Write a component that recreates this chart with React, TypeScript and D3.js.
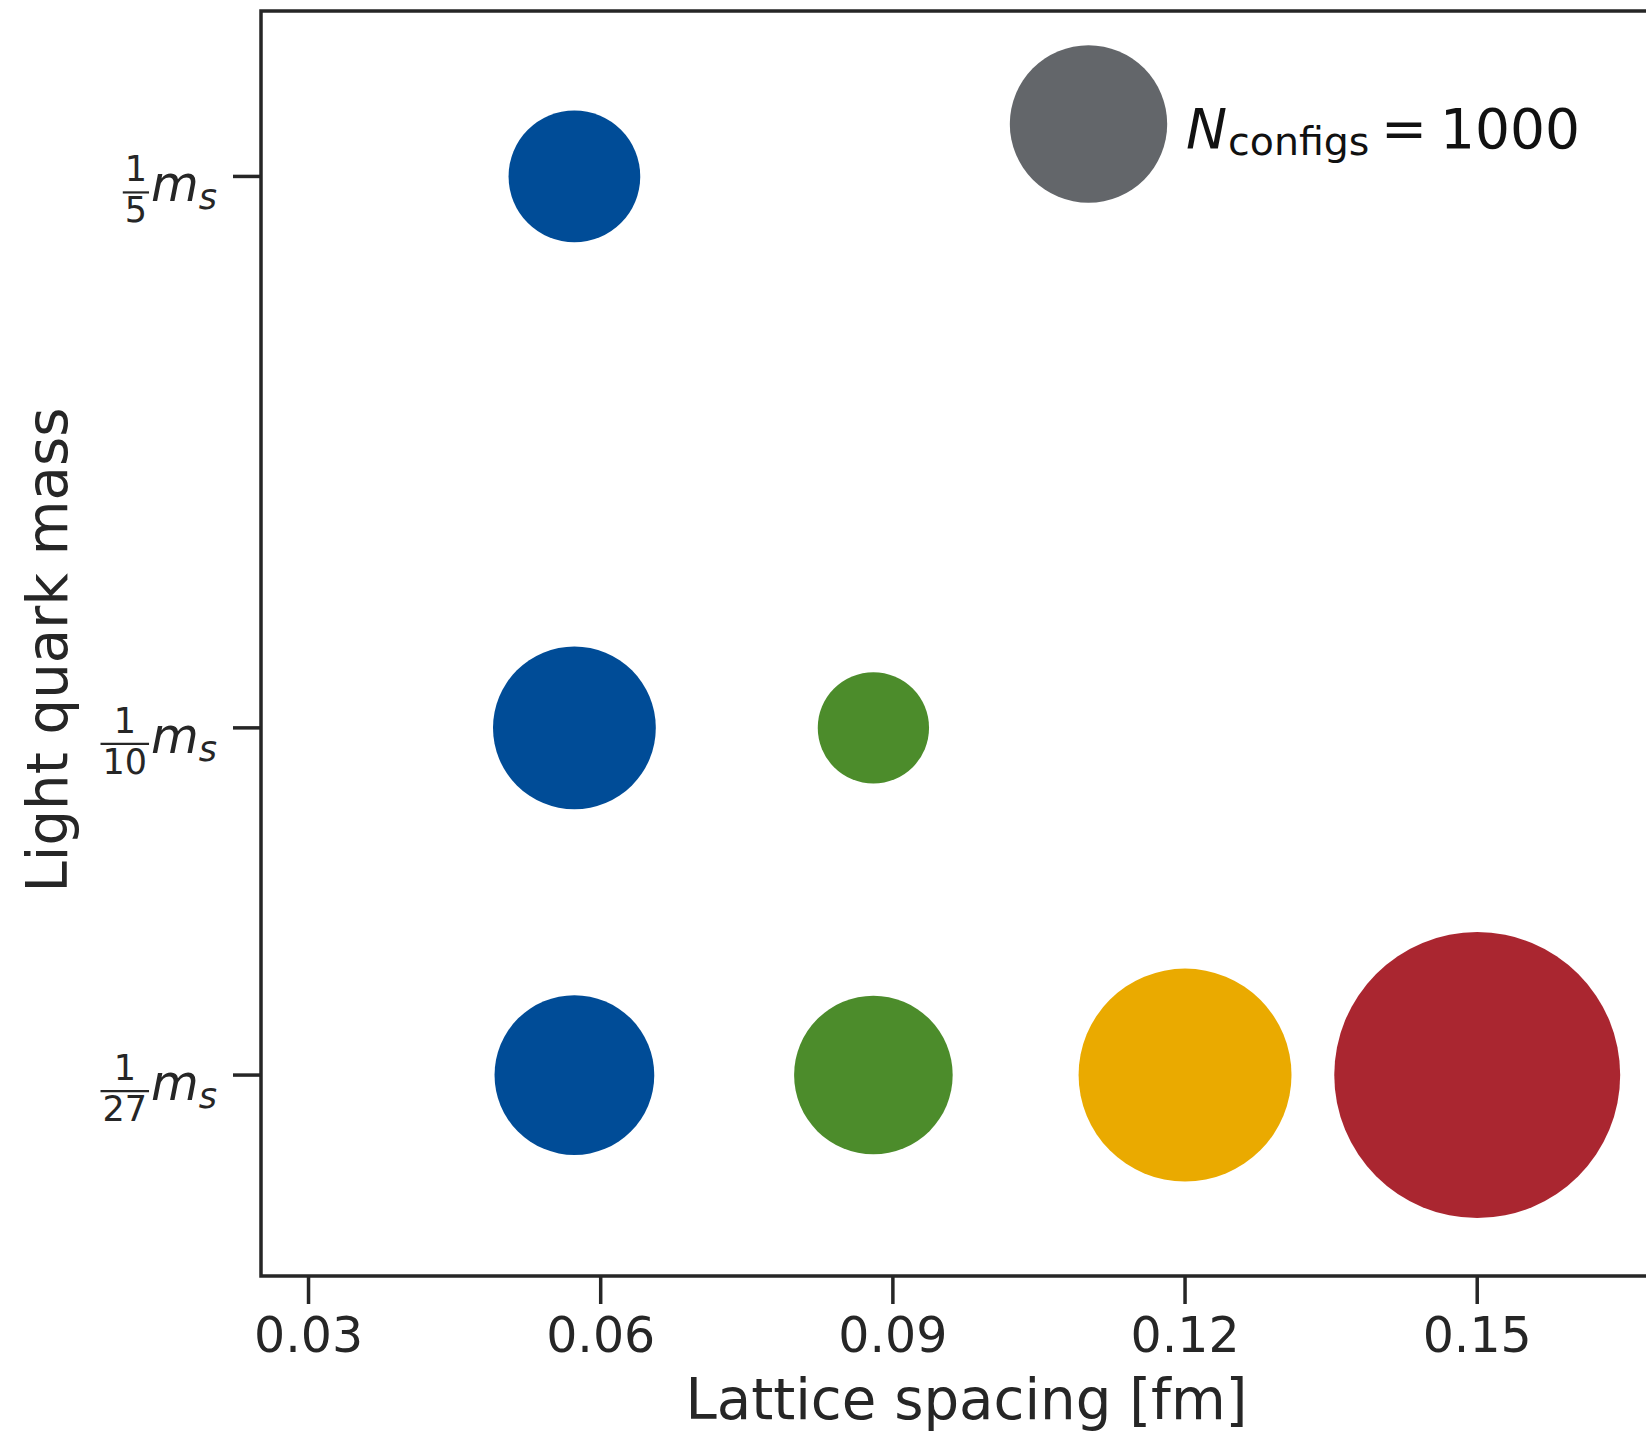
import { useEffect, useRef } from "react";
import * as d3 from "d3";

// ensembles: lattice spacing [fm], light/strange mass ratio, number of configs
const spacings = [0.0573, 0.0573, 0.088, 0.0573, 0.088, 0.12, 0.15];
const massRatios = [1 / 5, 1 / 10, 1 / 10, 1 / 27, 1 / 27, 1 / 27, 1 / 27];
const nConfigs = [700, 1070, 500, 1030, 1015, 1830, 3300];

const spacingGroups = [0.0573, 0.088, 0.12, 0.15];
const groupColors = ["#004c97", "#4c8c2b", "#eaaa00", "#aa2630"];

const xTicks = [0.03, 0.06, 0.09, 0.12, 0.15];
const yTicks = [1 / 5, 1 / 10, 1 / 27];
const yTickDenoms = ["5", "10", "27"];

const legendN = 1000;
const legendColor = "#63666a";

const FONT = "'DejaVu Sans', sans-serif";
const INK = "#262626";

export default function App() {
  const svgRef = useRef<SVGSVGElement>(null);

  useEffect(() => {
    const svg = d3.select(svgRef.current);
    svg.selectAll("*").remove();

    const left = 261;
    const top = 11;
    const bottom = 1276;
    const right = 1672; // right spine falls outside the picture

    const x = d3.scaleLinear().domain([0.02512, 0.17]).range([left, right]);
    const y = d3.scaleLinear().domain([0.0006, 0.23]).range([bottom, top]);
    const r = d3.scaleSqrt().domain([0, legendN]).range([0, 78.7]);
    const color = d3
      .scaleOrdinal<number, string>()
      .domain(spacingGroups)
      .range(groupColors);

    const g = svg.append("g");

    // points
    const pts = spacings.map((a, i) => ({
      a,
      m: massRatios[i],
      n: nConfigs[i],
    }));
    g.selectAll("circle.pt")
      .data(pts)
      .join("circle")
      .attr("class", "pt")
      .attr("cx", (d) => x(d.a))
      .attr("cy", (d) => y(d.m))
      .attr("r", (d) => r(d.n))
      .attr("fill", (d) => color(d.a));

    // spines
    g.append("path")
      .attr("d", `M${right},${top}H${left}V${bottom}H${right}`)
      .attr("fill", "none")
      .attr("stroke", INK)
      .attr("stroke-width", 3.5);

    // x axis
    const xAxis = g.append("g");
    xTicks.forEach((t) => {
      xAxis
        .append("line")
        .attr("x1", x(t))
        .attr("x2", x(t))
        .attr("y1", bottom)
        .attr("y2", bottom + 28)
        .attr("stroke", INK)
        .attr("stroke-width", 3.5);
      xAxis
        .append("text")
        .attr("x", x(t))
        .attr("y", bottom + 76)
        .attr("text-anchor", "middle")
        .attr("font-family", FONT)
        .attr("font-size", 49)
        .attr("fill", INK)
        .text(d3.format(".2f")(t));
    });
    xAxis
      .append("text")
      .attr("x", (left + right) / 2)
      .attr("y", bottom + 143)
      .attr("text-anchor", "middle")
      .attr("font-family", FONT)
      .attr("font-size", 56.2)
      .attr("fill", INK)
      .text("Lattice spacing [fm]");

    // y axis
    const yAxis = g.append("g");
    const rx = 217;
    const fs = 49;
    const small = 35;
    yTicks.forEach((t, i) => {
      const ty = y(t);
      yAxis
        .append("line")
        .attr("x1", left - 28)
        .attr("x2", left)
        .attr("y1", ty)
        .attr("y2", ty)
        .attr("stroke", INK)
        .attr("stroke-width", 3.5);

      const lab = yAxis.append("g").attr("fill", INK).attr("font-family", FONT);
      const ms = lab
        .append("text")
        .attr("x", rx)
        .attr("y", ty + 25)
        .attr("text-anchor", "end")
        .attr("font-size", fs)
        .attr("font-style", "italic");
      ms.append("tspan").text("m");
      ms.append("tspan").attr("font-size", small).attr("dy", 8).text("s");

      const mStart = rx - (0.974 * fs + 0.521 * small);
      const den = yTickDenoms[i];
      const barW = den.length * 0.636 * small + 4;
      const barRight = mStart - 2;
      const cx = barRight - barW / 2;
      lab
        .append("text")
        .attr("x", cx)
        .attr("y", ty + 5)
        .attr("text-anchor", "middle")
        .attr("font-size", small)
        .text("1");
      lab
        .append("line")
        .attr("x1", barRight - barW)
        .attr("x2", barRight)
        .attr("y1", ty + 16)
        .attr("y2", ty + 16)
        .attr("stroke", INK)
        .attr("stroke-width", 2.2);
      lab
        .append("text")
        .attr("x", cx)
        .attr("y", ty + 46)
        .attr("text-anchor", "middle")
        .attr("font-size", small)
        .text(den);
    });
    yAxis
      .append("text")
      .attr("transform", `translate(${67},${650}) rotate(-90)`)
      .attr("text-anchor", "middle")
      .attr("font-family", FONT)
      .attr("font-size", 56.2)
      .attr("fill", INK)
      .text("Light quark mass");

    // legend
    const leg = g.append("g");
    leg
      .append("circle")
      .attr("cx", 1088.5)
      .attr("cy", 124)
      .attr("r", r(legendN))
      .attr("fill", legendColor);
    const lt = leg
      .append("text")
      .attr("font-family", FONT)
      .attr("font-size", 55)
      .attr("fill", "#111");
    lt.append("tspan")
      .attr("x", 1186)
      .attr("y", 148)
      .attr("font-style", "italic")
      .text("N");
    lt.append("tspan")
      .attr("x", 1228)
      .attr("y", 155)
      .attr("font-size", 39.5)
      .text("configs");
    lt.append("tspan").attr("x", 1381).attr("y", 148).text("=");
    lt.append("tspan").attr("x", 1440).attr("y", 148).text(String(legendN));
  }, []);

  return (
    <div style={{ position: "absolute", left: 0, top: 0 }}>
      <svg
        ref={svgRef}
        width={1646}
        height={1433}
        style={{ display: "block", background: "#fff", overflow: "hidden" }}
      />
    </div>
  );
}
